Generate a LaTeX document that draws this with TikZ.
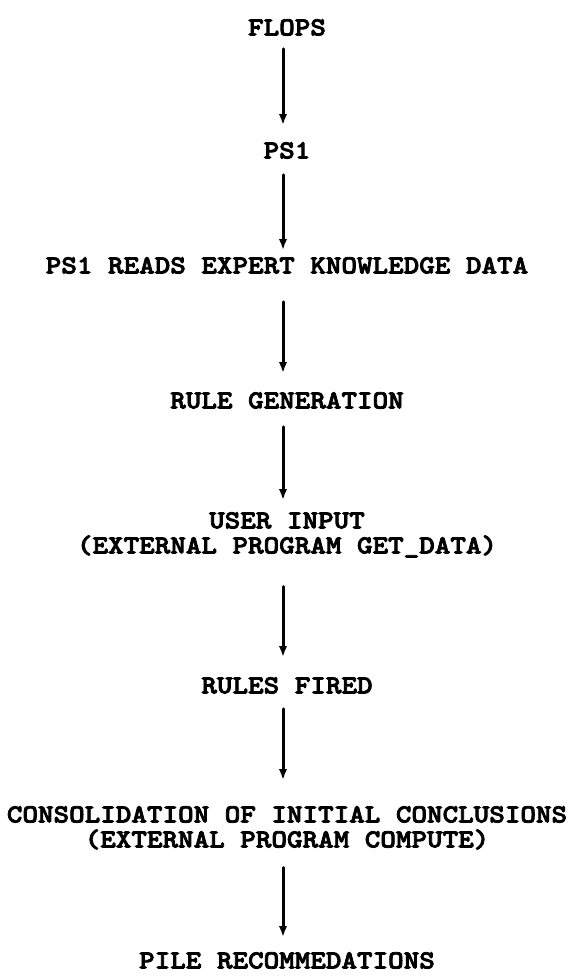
\documentclass[tikz,border=0pt]{standalone}
\usepackage{fontspec}
% dark typewriter face, widened to a Courier-like pitch and inked heavier
\newfontfamily\steptt{lmmonolt10-bold.otf}[FakeStretch=1.14, FakeBold=3]
\usetikzlibrary{arrows.meta}
\begin{document}
\begin{tikzpicture}[x=1pt,y=1pt,
  steplabel/.style={font=\steptt\fontsize{26}{25}\selectfont,
    inner sep=0pt, anchor=north, align=center},
  flow/.style={line width=3pt, line cap=round,
    -{Latex[length=11pt,width=8.5pt]}}]
\useasboundingbox (0,0) rectangle (577,-977);

% processing steps, top to bottom
\node[steplabel] (flops) at (287,-19)  {FLOPS};
\node[steplabel] (ps1)   at (287,-142) {PS1};
\node[steplabel] (reads) at (287,-257) {PS1 READS EXPERT KNOWLEDGE DATA};
\node[steplabel] (rules) at (287,-392) {RULE GENERATION};
\node[steplabel] (input) at (287,-512) {USER INPUT\\(EXTERNAL PROGRAM GET\_DATA)};
\node[steplabel] (fired) at (287,-677) {RULES FIRED};
\node[steplabel] (cons)  at (287,-806) {CONSOLIDATION OF INITIAL CONCLUSIONS\\(EXTERNAL PROGRAM COMPUTE)};
\node[steplabel] (pile)  at (287,-952) {PILE RECOMMEDATIONS};

% connecting arrows, slightly left of the text centre line
\foreach \a/\b/\s/\e in {flops/ps1/13/17, ps1/reads/16/7, reads/rules/28/19,
    rules/input/18/12, input/fired/29/20, fired/cons/15/26, cons/pile/18/15}
  \draw[flow, shorten <=\s pt, shorten >=\e pt]
    ([xshift=-4pt]\a.south) -- ([xshift=-4pt]\b.north);
\end{tikzpicture}
\end{document}
